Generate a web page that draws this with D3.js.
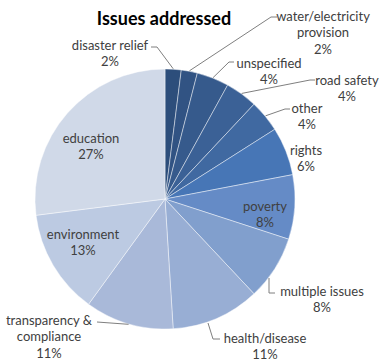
<!DOCTYPE html>
<html>
<head>
<meta charset="utf-8">
<script src="https://cdn.jsdelivr.net/npm/d3@7"></script>
<style>
  html, body { margin: 0; padding: 0; background: #ffffff; }
  svg { display: block; }
  text { font-family: Lato, "Open Sans", sans-serif; fill: #404040; }
</style>
</head>
<body>
<svg id="chart" width="380" height="361"></svg>
<script>
// ---- data ----
const title = "Issues addressed";
const categories = [
  "disaster relief", "water/electricity provision", "unspecified", "road safety",
  "other", "rights", "poverty", "multiple issues", "health/disease",
  "transparency & compliance", "environment", "education"
];
const values = [2, 2, 4, 4, 4, 6, 8, 8, 11, 11, 13, 27];
const valueLabels = ["2%", "2%", "4%", "4%", "4%", "6%", "8%", "8%", "11%", "11%", "13%", "27%"];
const colors = [
  "#2d4e7b", "#315383", "#365a8c", "#3b6196", "#4069a1", "#4776b6",
  "#658bc6", "#819fcd", "#98aed4", "#a9b9d9", "#bccae2", "#d0d9e8"
];

// ---- label layout (text lines, centre x, first line centre y, leader points) ----
const labelLines = [
  ["disaster relief"], ["water/electricity", "provision"], ["unspecified"], ["road safety"],
  ["other"], ["rights"], ["poverty"], ["multiple issues"], ["health/disease"],
  ["transparency &", "compliance"], ["environment"], ["education"]
];
const labelPos = [
  {x: 110, y: 45, leader: [[151, 47], [157, 47]]},
  {x: 323, y: 16, leader: [[277, 17], [271, 17]]},
  {x: 269, y: 63, leader: [[234, 62], [229, 62]]},
  {x: 347, y: 80, leader: [[315, 80], [310, 80]]},
  {x: 307, y: 108, leader: [[290, 109], [285, 109]]},
  {x: 306, y: 150, leader: null},
  {x: 265, y: 206, leader: null},
  {x: 322, y: 291, leader: [[275, 293], [269, 293], [269, 278]]},
  {x: 265, y: 338, leader: [[220, 339], [213, 339], [208, 323]]},
  {x: 49, y: 320, leader: [[97, 322]]},
  {x: 83, y: 234, leader: null},
  {x: 91, y: 138, leader: null}
];
const lineStep = 16.8;

const svg = d3.select("#chart");
const cx = 165, cy = 199, R = 130;

svg.append("text")
  .attr("x", 164).attr("y", 25)
  .attr("text-anchor", "middle")
  .style("font-size", "18px").style("font-weight", "bold")
  .style("fill", "#000")
  .text(title);

const pie = d3.pie().sort(null).value(d => d)(values);
const arc = d3.arc().innerRadius(0).outerRadius(R);

const g = svg.append("g").attr("transform", `translate(${cx},${cy})`);
g.selectAll("path.slice").data(pie).enter().append("path")
  .attr("class", "slice")
  .attr("d", arc)
  .attr("fill", (d, i) => colors[i])
  .attr("stroke", "rgba(255,255,255,0.55)")
  .attr("stroke-width", 0.8);

// leader lines
pie.forEach((d, i) => {
  const lp = labelPos[i];
  if (!lp.leader) return;
  const pts = lp.leader.slice();
  const last = pts[pts.length - 1];
  // endpoints that are not explicitly on the pie attach to slice mid-angle edge
  if (i !== 7 && i !== 8) {
    const a = (d.startAngle + d.endAngle) / 2;
    pts.push([cx + (R + 0.5) * Math.sin(a), cy - (R + 0.5) * Math.cos(a)]);
  }
  svg.append("path")
    .attr("d", d3.line()(pts))
    .attr("fill", "none")
    .attr("stroke", "#7f7f7f")
    .attr("stroke-width", 1);
});

// labels
categories.forEach((c, i) => {
  const lp = labelPos[i];
  const lines = labelLines[i].concat([valueLabels[i]]);
  const t = svg.append("text")
    .attr("text-anchor", "middle")
    .style("font-size", "13px");
  lines.forEach((ln, k) => {
    t.append("tspan")
      .attr("x", lp.x)
      .attr("y", lp.y + k * lineStep)
      .attr("dy", "0.35em")
      .text(ln);
  });
});
</script>
</body>
</html>
